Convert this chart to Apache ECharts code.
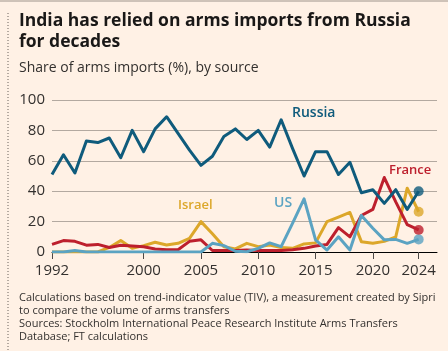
<!DOCTYPE html>
<html>
<head>
<meta charset="utf-8">
<script src="https://cdn.jsdelivr.net/npm/echarts@6/dist/echarts.min.js"></script>
<style>
  html, body { margin: 0; padding: 0; background: #fff1e5; }
  #chart { width: 448px; height: 351px; }
</style>
</head>
<body>
<div id="chart"></div>
<script>
// share of India's arms imports (%), by source
const years = [1992, 1993, 1994, 1995, 1996, 1997, 1998, 1999, 2000, 2001, 2002,
  2003, 2004, 2005, 2006, 2007, 2008, 2009, 2010, 2011, 2012, 2013, 2014,
  2015, 2016, 2017, 2018, 2019, 2020, 2021, 2022, 2023, 2024]
const russia = [51, 64, 52, 73, 72, 75, 62, 80, 66, 81, 89, 78, 67, 57, 63, 76, 81,
  74, 80, 69, 87, 68, 50, 66, 66, 51, 59, 39, 41, 32, 41, 28, 40]
const france = [5, 7.5, 7, 4.5, 5, 3, 4.5, 4, 3.5, 2, 1.5, 1.5, 7, 8, 1, 1, 1,
  1.3, 1, 1, 1, 1.5, 2.4, 4, 5, 16, 10, 24, 28, 49, 33, 18, 14.5]
const us = [0, 0, 1, 0, 0, 0, 0, 0, 0, 0, 0, 0, 0, 0, 5.7, 4.2, 0.5, 0.2, 2.4, 6,
  3.5, 19, 35, 8, 1.3, 10, 1.3, 24, 15.6, 8, 8.3, 5.7, 8.3]
const israel = [0, 0, 0, 0, 0, 3, 7.5, 2.4, 4.2, 6.4, 4.6, 5.7, 9, 20, 12, 3.5, 2,
  5.7, 3.5, 4.6, 2.9, 2.4, 5.3, 6, 20, 23, 26, 6.8, 5.7, 7, 10, 42, 26.5]
const xTicks = [1992, 2000, 2005, 2010, 2015, 2020, 2024]

const colors = {
  russia: '#0f5b7c',
  france: '#bd1f2d',
  us: '#5ba3c2',
  israel: '#dca72a'
}

const font = '"Open Sans", sans-serif'
const ink = '#33302e'

const pairs = arr => arr.map((v, i) => [years[i], v])
const last = arr => [years[years.length - 1], arr[arr.length - 1]]

const lineSeries = (name, arr, color) => ({
  name: name,
  type: 'line',
  data: pairs(arr),
  symbol: 'none',
  lineStyle: { color: color, width: 3, join: 'round' },
  silent: true,
  z: 3
})

const dotSeries = (arr, color) => ({
  type: 'scatter',
  data: [last(arr)],
  symbol: 'circle',
  symbolSize: 10,
  itemStyle: { color: color },
  silent: true,
  z: 4
})

const chart = echarts.init(document.getElementById('chart'))

const option = {
  backgroundColor: '#fff1e5',
  animation: false,
  grid: { left: 52, right: 11, top: 100, bottom: 99 },
  xAxis: {
    type: 'value',
    min: 1992,
    max: 2025.6,
    splitLine: { show: false },
    axisLine: { show: true, onZero: false, lineStyle: { color: '#000', width: 1 } },
    axisTick: {
      show: true,
      customValues: xTicks,
      length: 7,
      lineStyle: { color: '#4d4845', width: 1 }
    },
    axisLabel: {
      customValues: xTicks,
      formatter: v => String(v),
      color: ink,
      fontFamily: font,
      fontSize: 15,
      margin: 11
    }
  },
  yAxis: {
    type: 'value',
    min: 0,
    max: 100,
    interval: 20,
    axisLine: { show: false },
    axisTick: { show: false },
    splitLine: { lineStyle: { color: '#b3a9a0', width: 1 } },
    axisLabel: {
      color: ink,
      fontFamily: font,
      fontSize: 15,
      margin: 7
    }
  },
  series: [
    lineSeries('Israel', israel, colors.israel),
    lineSeries('France', france, colors.france),
    lineSeries('US', us, colors.us),
    lineSeries('Russia', russia, colors.russia),
    dotSeries(israel, colors.israel),
    dotSeries(france, colors.france),
    dotSeries(us, colors.us),
    dotSeries(russia, colors.russia)
  ],
  graphic: [
    // top rule and dotted left edge
    { type: 'line', shape: { x1: 0, y1: 1, x2: 448, y2: 1 }, style: { stroke: '#9e948b', lineWidth: 1 } },
    { type: 'line', shape: { x1: 8, y1: 13, x2: 8, y2: 351 }, style: { stroke: '#6b635d', lineWidth: 1, lineDash: [1, 2] } },
    {
      type: 'text', left: 19, top: 11,
      style: {
        text: 'India has relied on arms imports from Russia\nfor decades',
        font: 'bold 17.5px ' + font, fill: '#1a1817', lineHeight: 21
      }
    },
    {
      type: 'text', left: 19, top: 61,
      style: { text: 'Share of arms imports (%), by source', font: '14px ' + font, fill: ink }
    },
    // series labels
    { type: 'text', left: 292, top: 106, style: { text: 'Russia', font: '600 14px ' + font, fill: colors.russia } },
    { type: 'text', left: 389, top: 164, style: { text: 'France', font: '600 13px ' + font, fill: colors.france } },
    { type: 'text', left: 178, top: 199, style: { text: 'Israel', font: '600 13px ' + font, fill: colors.israel } },
    { type: 'text', left: 274, top: 196, style: { text: 'US', font: '600 14px ' + font, fill: colors.us } },
    {
      type: 'text', left: 19, top: 291,
      style: {
        text: 'Calculations based on trend-indicator value (TIV), a measurement created by Sipri\n' +
          'to compare the volume of arms transfers\n' +
          'Sources: Stockholm International Peace Research Institute Arms Transfers\n' +
          'Database; FT calculations',
        font: '11px ' + font, fill: ink, lineHeight: 13
      }
    }
  ]
}

chart.setOption(option)
</script>
</body>
</html>
